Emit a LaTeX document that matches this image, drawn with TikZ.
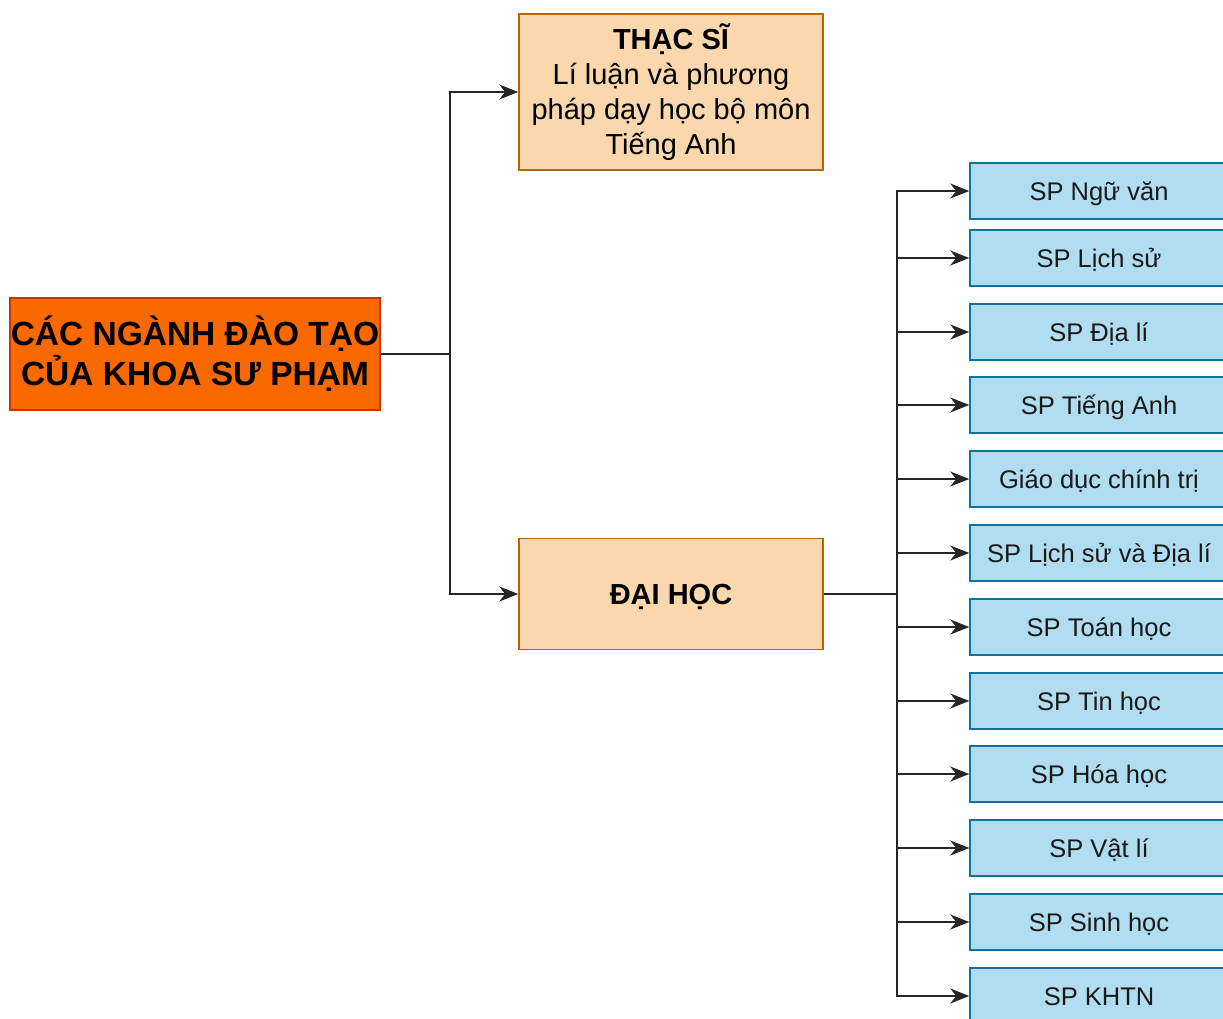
\documentclass[tikz,border=0pt]{standalone}
\usepackage{fontspec}
\setmainfont{Liberation Sans}
\usetikzlibrary{arrows.meta}
\definecolor{rootfill}{HTML}{FA6800}
\definecolor{rootdraw}{HTML}{C73500}
\definecolor{midfill}{HTML}{FAD7AC}
\definecolor{middraw}{HTML}{B46504}
\definecolor{leaffill}{HTML}{B1DDF0}
\definecolor{leafdraw}{HTML}{10739E}
\begin{document}
\begin{tikzpicture}[x=1pt,y=-1pt,
 rootbox/.style={draw=rootdraw, fill=rootfill, line width=1.5pt, minimum width=370pt, minimum height=112pt, inner sep=0pt, align=center, font=\fontsize{33.5}{40}\selectfont\bfseries},
 midbox/.style={draw=middraw, fill=midfill, line width=1.5pt, minimum width=304pt, inner sep=0pt, align=center, font=\fontsize{29}{35}\selectfont},
 leafbox/.style={draw=leafdraw, fill=leaffill, line width=1.5pt, minimum width=258pt, minimum height=56pt, inner sep=0pt, font=\fontsize{25.5}{30}\selectfont, text=black!90, text height=18.3pt, text depth=0pt},
 conn/.style={line width=1.6pt, draw=black!85},
 arr/.style={conn, -{Stealth[length=19pt,width=15pt,inset=6pt]}}
]
\useasboundingbox (0,0) rectangle (1223,1019);
\fill[white] (0,0) rectangle (1223,1019);

\node[rootbox] (root) at (195,354) {CÁC NGÀNH ĐÀO TẠO\\CỦA KHOA SƯ PHẠM};
\node[midbox, minimum height=156pt] (ths) at (671,92) {{\bfseries THẠC SĨ}\\Lí luận và phương\\pháp dạy học bộ môn\\Tiếng Anh};
\node[midbox, minimum height=111pt, text height=20.8pt, text depth=0pt, font=\fontsize{29}{35}\selectfont\bfseries] (dh) at (671,594) {ĐẠI HỌC};

\foreach \y/\t [count=\i] in {191/SP Ngữ văn, 258/SP Lịch sử, 332/SP Địa lí, 405/SP Tiếng Anh, 479/Giáo dục chính trị, 553/SP Lịch sử và Địa lí, 627/SP Toán học, 701/SP Tin học, 774/SP Hóa học, 848/SP Vật lí, 922/SP Sinh học, 996/SP KHTN}
  \node[leafbox] (l\i) at (1099,\y) {\t};

\coordinate (j1) at (450,354);
\coordinate (j2) at (897,594);
\draw[conn] (root.east) -- (j1);
\draw[arr] (j1) |- (ths.west);
\draw[arr] (j1) |- (dh.west);
\draw[conn] (dh.east) -- (j2);
\foreach \i in {1,...,12}
  \draw[arr] (j2) |- (l\i.west);
\end{tikzpicture}
\end{document}
